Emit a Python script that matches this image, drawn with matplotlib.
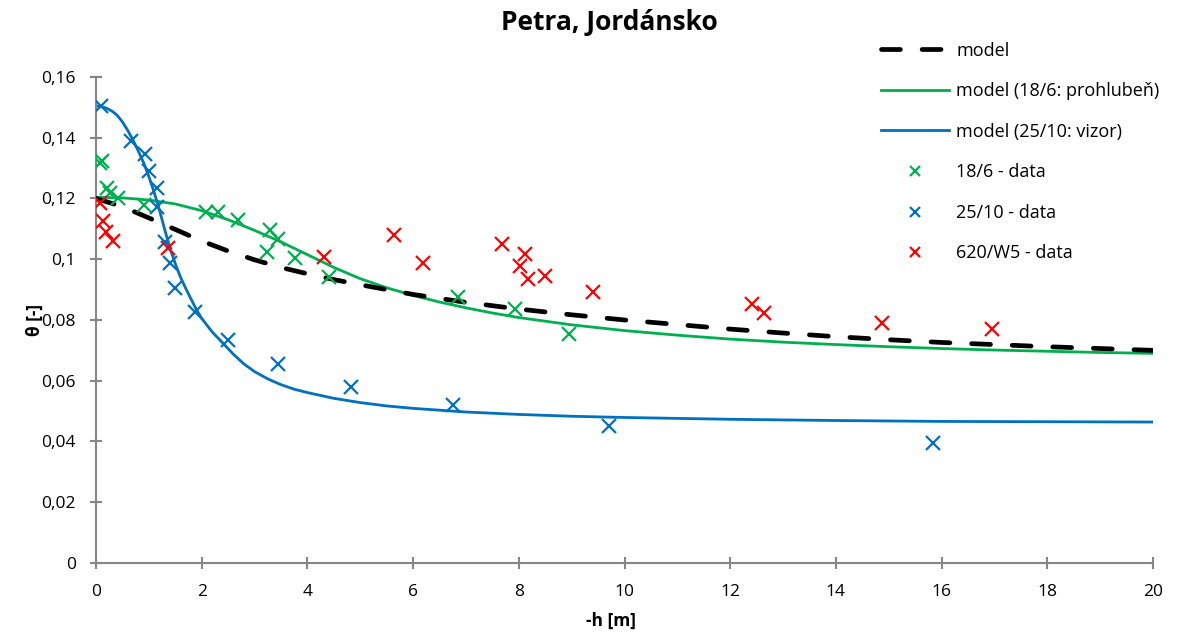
import matplotlib.pyplot as plt
import numpy as np

plt.rcParams['font.family'] = ['Open Sans', 'DejaVu Sans']

# measured data
x_186 = [0.08, 0.12, 0.2, 0.26, 0.42, 0.9, 2.09, 2.31, 2.69, 3.29, 3.45, 3.23, 3.77, 4.40, 6.84, 7.93, 8.95]
y_186 = [0.1316, 0.1322, 0.1233, 0.1217, 0.1203, 0.1179, 0.1157, 0.1157, 0.1128, 0.1095, 0.1065, 0.1025,
         0.1003, 0.0943, 0.0877, 0.0835, 0.0754]

x_2510 = [0.1, 0.66, 0.93, 1.0, 1.15, 1.16, 1.31, 1.40, 1.49, 1.87, 2.49, 3.44, 4.82, 6.75, 9.71, 15.84]
y_2510 = [0.1504, 0.1390, 0.1347, 0.1289, 0.1233, 0.1173, 0.1058, 0.0987, 0.0904, 0.0827, 0.0734, 0.0655,
          0.0578, 0.0520, 0.0451, 0.0396]

x_w5 = [0.08, 0.14, 0.19, 0.33, 1.37, 4.31, 5.63, 6.18, 7.68, 8.12, 8.02, 8.18, 8.5, 9.40, 12.42, 12.63, 14.87, 16.96]
y_w5 = [0.1186, 0.1126, 0.1091, 0.1061, 0.1036, 0.1009, 0.1080, 0.0987, 0.1050, 0.1017, 0.0978, 0.0934,
        0.0945, 0.0893, 0.0853, 0.0822, 0.0791, 0.0769]

# model curves
xm = [0, 0.5, 1.0, 1.5, 2.0, 2.5, 3.0, 3.5, 4.0, 4.5, 5.0, 5.5, 6.0, 7.0, 8.0, 9.0, 10, 11, 12, 13, 14, 15,
      16, 17, 18, 19, 20]
ym = [0.1200, 0.1173, 0.1136, 0.1098, 0.1060, 0.1027, 0.0998, 0.0973, 0.0952, 0.0933, 0.0916, 0.0900,
      0.0884, 0.0858, 0.0836, 0.0817, 0.0800, 0.0785, 0.0770, 0.0757, 0.0745, 0.0735, 0.0726, 0.0719,
      0.0712, 0.0706, 0.0700]

xg = [0, 0.5, 1.0, 1.5, 2.0, 2.5, 3.0, 3.5, 4.0, 4.5, 5.0, 5.5, 6.0, 6.5, 7.0, 7.5, 8.0, 9.0, 10, 11, 12,
      13, 14, 15, 16, 17, 18, 19, 20]
yg = [0.1204, 0.1202, 0.1195, 0.1182, 0.1160, 0.1130, 0.1095, 0.1057, 0.1015, 0.0973, 0.0936, 0.0906,
      0.0881, 0.0859, 0.0840, 0.0823, 0.0808, 0.0784, 0.0765, 0.0750, 0.0737, 0.0727, 0.0719, 0.0712,
      0.0706, 0.0701, 0.0697, 0.0693, 0.0690]

xb = [0, 0.1, 0.2, 0.3, 0.4, 0.5, 0.6, 0.7, 0.8, 0.9, 1.0, 1.1, 1.2, 1.3, 1.4, 1.5, 1.6, 1.7, 1.8, 1.9,
      2.0, 2.2, 2.4, 2.6, 2.8, 3.0, 3.25, 3.5, 3.75, 4.0, 4.5, 5.0, 5.5, 6.0, 7.0, 8.0, 9.0, 10, 12, 14,
      16, 18, 20]
yb = [0.1505, 0.1503, 0.1497, 0.1488, 0.1474, 0.1452, 0.1424, 0.1392, 0.1356, 0.1318, 0.1272, 0.1220,
      0.1162, 0.1097, 0.1036, 0.0985, 0.0940, 0.0903, 0.0868, 0.0834, 0.0805, 0.0760, 0.0724, 0.0687,
      0.0655, 0.0630, 0.0606, 0.0587, 0.0572, 0.0561, 0.0542, 0.0528, 0.0517, 0.0509, 0.0497, 0.0489,
      0.0483, 0.0479, 0.0473, 0.0469, 0.0466, 0.0465, 0.0464]

green = '#00B050'
blue = '#0070C0'
red = '#FF0000'

fig = plt.figure(figsize=(11.77, 6.39), dpi=100)
ax = fig.add_axes([0.0816, 0.119, 0.898, 0.7605])

ax.plot(xm, ym, color='black', lw=3.4, dashes=(4, 4.6), dash_capstyle='round', label='model', zorder=3)
ax.plot(xg, yg, color=green, lw=2, label='model (18/6: prohlubeň)', zorder=2)
ax.plot(xb, yb, color=blue, lw=2, label='model (25/10: vizor)', zorder=2)
ax.plot(x_186, y_186, 'x', color=green, ms=10, mew=1.6, label='18/6 - data', zorder=4)
ax.plot(x_2510, y_2510, 'x', color=blue, ms=10, mew=1.6, label='25/10 - data', zorder=4)
ax.plot(x_w5, y_w5, 'x', color=red, ms=10, mew=1.6, label='620/W5 - data', zorder=4)

ax.set_xlim(0, 20)
ax.set_ylim(0, 0.16)
ax.set_xticks(np.arange(0, 21, 2))
ax.set_yticks(np.arange(0, 0.161, 0.02))
ax.set_yticklabels(['0', '0,02', '0,04', '0,06', '0,08', '0,1', '0,12', '0,14', '0,16'])
ax.set_xticklabels([str(v) for v in range(0, 21, 2)])

for s in ['top', 'right']:
    ax.spines[s].set_visible(False)
for s in ['left', 'bottom']:
    ax.spines[s].set_color('#868686')
    ax.spines[s].set_linewidth(1.5)
ax.tick_params(direction='inout', length=9, width=1.5, color='#868686', labelsize=12.5)
ax.tick_params(axis='x', pad=11)
ax.tick_params(axis='y', pad=10)

ax.set_xlabel('-h [m]', fontsize=12.5, fontweight='bold')
ax.set_ylabel('θ [-]', fontsize=12.5, fontweight='bold')
ax.xaxis.set_label_coords(0.487, -0.1005)
ax.yaxis.set_label_coords(-0.049, 0.5)

fig.text(609 / 1177, 1 - 22 / 639, 'Petra, Jordánsko', ha='center', va='center', fontsize=19,
         fontweight='bold')

handles, labels = ax.get_legend_handles_labels()
fig.legend(handles, labels, loc='upper left', bbox_to_anchor=(0.741, 0.949), frameon=False,
           fontsize=13, handlelength=3.75, handletextpad=0.4, labelspacing=1.25, borderpad=0,
           markerscale=0.7)

fig.savefig('out.png', dpi=100)
